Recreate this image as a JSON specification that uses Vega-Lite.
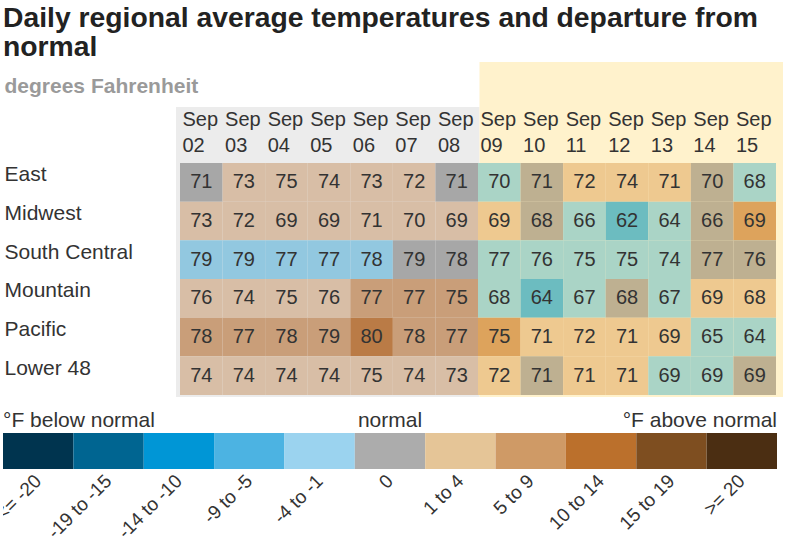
{
  "$schema": "https://vega.github.io/schema/vega-lite/v6.json",
  "padding": {"left": 3, "top": 3, "right": 3, "bottom": 0},
  "title": {
    "text": ["Daily regional average temperatures and departure from", "normal"],
    "anchor": "start",
    "frame": "bounds",
    "font": "Liberation Sans",
    "fontSize": 28.3,
    "fontWeight": "bold",
    "color": "#222222",
    "lineHeight": 29,
    "offset": 0
  },
  "config": {
    "view": {"stroke": null},
    "font": "Liberation Sans",
    "axis": {"labelFont": "Liberation Sans", "grid": false, "domain": false, "ticks": false, "tickSize": 0, "title": null}
  },
  "datasets": {
    "cells": [
      {"region": "East", "day": "Sep 02", "temp": 71, "dep": "0", "period": "observed"},
      {"region": "East", "day": "Sep 03", "temp": 73, "dep": "1 to 4", "period": "observed"},
      {"region": "East", "day": "Sep 04", "temp": 75, "dep": "1 to 4", "period": "observed"},
      {"region": "East", "day": "Sep 05", "temp": 74, "dep": "1 to 4", "period": "observed"},
      {"region": "East", "day": "Sep 06", "temp": 73, "dep": "1 to 4", "period": "observed"},
      {"region": "East", "day": "Sep 07", "temp": 72, "dep": "1 to 4", "period": "observed"},
      {"region": "East", "day": "Sep 08", "temp": 71, "dep": "0", "period": "observed"},
      {"region": "East", "day": "Sep 09", "temp": 70, "dep": "-4 to -1", "period": "forecast"},
      {"region": "East", "day": "Sep 10", "temp": 71, "dep": "0", "period": "forecast"},
      {"region": "East", "day": "Sep 11", "temp": 72, "dep": "1 to 4", "period": "forecast"},
      {"region": "East", "day": "Sep 12", "temp": 74, "dep": "1 to 4", "period": "forecast"},
      {"region": "East", "day": "Sep 13", "temp": 71, "dep": "1 to 4", "period": "forecast"},
      {"region": "East", "day": "Sep 14", "temp": 70, "dep": "0", "period": "forecast"},
      {"region": "East", "day": "Sep 15", "temp": 68, "dep": "-4 to -1", "period": "forecast"},
      {"region": "Midwest", "day": "Sep 02", "temp": 73, "dep": "1 to 4", "period": "observed"},
      {"region": "Midwest", "day": "Sep 03", "temp": 72, "dep": "1 to 4", "period": "observed"},
      {"region": "Midwest", "day": "Sep 04", "temp": 69, "dep": "1 to 4", "period": "observed"},
      {"region": "Midwest", "day": "Sep 05", "temp": 69, "dep": "1 to 4", "period": "observed"},
      {"region": "Midwest", "day": "Sep 06", "temp": 71, "dep": "1 to 4", "period": "observed"},
      {"region": "Midwest", "day": "Sep 07", "temp": 70, "dep": "1 to 4", "period": "observed"},
      {"region": "Midwest", "day": "Sep 08", "temp": 69, "dep": "1 to 4", "period": "observed"},
      {"region": "Midwest", "day": "Sep 09", "temp": 69, "dep": "1 to 4", "period": "forecast"},
      {"region": "Midwest", "day": "Sep 10", "temp": 68, "dep": "0", "period": "forecast"},
      {"region": "Midwest", "day": "Sep 11", "temp": 66, "dep": "-4 to -1", "period": "forecast"},
      {"region": "Midwest", "day": "Sep 12", "temp": 62, "dep": "-9 to -5", "period": "forecast"},
      {"region": "Midwest", "day": "Sep 13", "temp": 64, "dep": "-4 to -1", "period": "forecast"},
      {"region": "Midwest", "day": "Sep 14", "temp": 66, "dep": "0", "period": "forecast"},
      {"region": "Midwest", "day": "Sep 15", "temp": 69, "dep": "5 to 9", "period": "forecast"},
      {"region": "South Central", "day": "Sep 02", "temp": 79, "dep": "-4 to -1", "period": "observed"},
      {"region": "South Central", "day": "Sep 03", "temp": 79, "dep": "-4 to -1", "period": "observed"},
      {"region": "South Central", "day": "Sep 04", "temp": 77, "dep": "-4 to -1", "period": "observed"},
      {"region": "South Central", "day": "Sep 05", "temp": 77, "dep": "-4 to -1", "period": "observed"},
      {"region": "South Central", "day": "Sep 06", "temp": 78, "dep": "-4 to -1", "period": "observed"},
      {"region": "South Central", "day": "Sep 07", "temp": 79, "dep": "0", "period": "observed"},
      {"region": "South Central", "day": "Sep 08", "temp": 78, "dep": "0", "period": "observed"},
      {"region": "South Central", "day": "Sep 09", "temp": 77, "dep": "-4 to -1", "period": "forecast"},
      {"region": "South Central", "day": "Sep 10", "temp": 76, "dep": "-4 to -1", "period": "forecast"},
      {"region": "South Central", "day": "Sep 11", "temp": 75, "dep": "-4 to -1", "period": "forecast"},
      {"region": "South Central", "day": "Sep 12", "temp": 75, "dep": "-4 to -1", "period": "forecast"},
      {"region": "South Central", "day": "Sep 13", "temp": 74, "dep": "-4 to -1", "period": "forecast"},
      {"region": "South Central", "day": "Sep 14", "temp": 77, "dep": "0", "period": "forecast"},
      {"region": "South Central", "day": "Sep 15", "temp": 76, "dep": "0", "period": "forecast"},
      {"region": "Mountain", "day": "Sep 02", "temp": 76, "dep": "1 to 4", "period": "observed"},
      {"region": "Mountain", "day": "Sep 03", "temp": 74, "dep": "1 to 4", "period": "observed"},
      {"region": "Mountain", "day": "Sep 04", "temp": 75, "dep": "1 to 4", "period": "observed"},
      {"region": "Mountain", "day": "Sep 05", "temp": 76, "dep": "1 to 4", "period": "observed"},
      {"region": "Mountain", "day": "Sep 06", "temp": 77, "dep": "5 to 9", "period": "observed"},
      {"region": "Mountain", "day": "Sep 07", "temp": 77, "dep": "5 to 9", "period": "observed"},
      {"region": "Mountain", "day": "Sep 08", "temp": 75, "dep": "5 to 9", "period": "observed"},
      {"region": "Mountain", "day": "Sep 09", "temp": 68, "dep": "-4 to -1", "period": "forecast"},
      {"region": "Mountain", "day": "Sep 10", "temp": 64, "dep": "-9 to -5", "period": "forecast"},
      {"region": "Mountain", "day": "Sep 11", "temp": 67, "dep": "-4 to -1", "period": "forecast"},
      {"region": "Mountain", "day": "Sep 12", "temp": 68, "dep": "0", "period": "forecast"},
      {"region": "Mountain", "day": "Sep 13", "temp": 67, "dep": "-4 to -1", "period": "forecast"},
      {"region": "Mountain", "day": "Sep 14", "temp": 69, "dep": "1 to 4", "period": "forecast"},
      {"region": "Mountain", "day": "Sep 15", "temp": 68, "dep": "1 to 4", "period": "forecast"},
      {"region": "Pacific", "day": "Sep 02", "temp": 78, "dep": "5 to 9", "period": "observed"},
      {"region": "Pacific", "day": "Sep 03", "temp": 77, "dep": "5 to 9", "period": "observed"},
      {"region": "Pacific", "day": "Sep 04", "temp": 78, "dep": "5 to 9", "period": "observed"},
      {"region": "Pacific", "day": "Sep 05", "temp": 79, "dep": "5 to 9", "period": "observed"},
      {"region": "Pacific", "day": "Sep 06", "temp": 80, "dep": "10 to 14", "period": "observed"},
      {"region": "Pacific", "day": "Sep 07", "temp": 78, "dep": "5 to 9", "period": "observed"},
      {"region": "Pacific", "day": "Sep 08", "temp": 77, "dep": "5 to 9", "period": "observed"},
      {"region": "Pacific", "day": "Sep 09", "temp": 75, "dep": "5 to 9", "period": "forecast"},
      {"region": "Pacific", "day": "Sep 10", "temp": 71, "dep": "1 to 4", "period": "forecast"},
      {"region": "Pacific", "day": "Sep 11", "temp": 72, "dep": "1 to 4", "period": "forecast"},
      {"region": "Pacific", "day": "Sep 12", "temp": 71, "dep": "1 to 4", "period": "forecast"},
      {"region": "Pacific", "day": "Sep 13", "temp": 69, "dep": "1 to 4", "period": "forecast"},
      {"region": "Pacific", "day": "Sep 14", "temp": 65, "dep": "-4 to -1", "period": "forecast"},
      {"region": "Pacific", "day": "Sep 15", "temp": 64, "dep": "-4 to -1", "period": "forecast"},
      {"region": "Lower 48", "day": "Sep 02", "temp": 74, "dep": "1 to 4", "period": "observed"},
      {"region": "Lower 48", "day": "Sep 03", "temp": 74, "dep": "1 to 4", "period": "observed"},
      {"region": "Lower 48", "day": "Sep 04", "temp": 74, "dep": "1 to 4", "period": "observed"},
      {"region": "Lower 48", "day": "Sep 05", "temp": 74, "dep": "1 to 4", "period": "observed"},
      {"region": "Lower 48", "day": "Sep 06", "temp": 75, "dep": "1 to 4", "period": "observed"},
      {"region": "Lower 48", "day": "Sep 07", "temp": 74, "dep": "1 to 4", "period": "observed"},
      {"region": "Lower 48", "day": "Sep 08", "temp": 73, "dep": "1 to 4", "period": "observed"},
      {"region": "Lower 48", "day": "Sep 09", "temp": 72, "dep": "1 to 4", "period": "forecast"},
      {"region": "Lower 48", "day": "Sep 10", "temp": 71, "dep": "0", "period": "forecast"},
      {"region": "Lower 48", "day": "Sep 11", "temp": 71, "dep": "1 to 4", "period": "forecast"},
      {"region": "Lower 48", "day": "Sep 12", "temp": 71, "dep": "1 to 4", "period": "forecast"},
      {"region": "Lower 48", "day": "Sep 13", "temp": 69, "dep": "-4 to -1", "period": "forecast"},
      {"region": "Lower 48", "day": "Sep 14", "temp": 69, "dep": "-4 to -1", "period": "forecast"},
      {"region": "Lower 48", "day": "Sep 15", "temp": 69, "dep": "0", "period": "forecast"}
    ],
    "legend": [
      {"cat": "<= -20"}, {"cat": "-19 to -15"}, {"cat": "-14 to -10"}, {"cat": "-9 to -5"},
      {"cat": "-4 to -1"}, {"cat": "0"}, {"cat": "1 to 4"}, {"cat": "5 to 9"},
      {"cat": "10 to 14"}, {"cat": "15 to 19"}, {"cat": ">= 20"}
    ]
  },
  "concat": [
    {
      "width": 780,
      "height": 45,
      "data": {"values": [{"period": "forecast", "unit": "degrees Fahrenheit"}]},
      "mark": {"type": "rect", "color": "#fff2cc"},
      "encoding": {
        "x": {"field": "period", "type": "nominal", "scale": {"type": "band", "domain": ["observed", "forecast"], "paddingInner": 0, "paddingOuter": 0.285, "align": 1}, "axis": null},
        "y": {"field": "unit", "type": "nominal", "scale": {"type": "band", "paddingInner": 0, "paddingOuter": 0},
          "axis": {"zindex": 2, "labelAlign": "left", "labelPadding": -1, "labelColor": "#9a9a9a", "labelFontWeight": "bold", "labelFontSize": 21, "labelOffset": 2, "labelLimit": 0}}
      }
    },
    {
      "width": 780,
      "height": 290,
      "data": {"name": "cells"},
      "layer": [
        {
          "data": {"values": [{"period": "observed"}, {"period": "forecast"}]},
          "mark": "rect",
          "encoding": {
            "x": {"field": "period", "type": "nominal", "scale": {"type": "band", "domain": ["observed", "forecast"], "paddingInner": 0, "paddingOuter": 0.285, "align": 1}, "axis": null},
            "color": {"field": "period", "type": "nominal", "scale": {"domain": ["observed", "forecast"], "range": ["#ececec", "#fff2cc"]}, "legend": null}
          }
        },
        {
          "transform": [{"filter": "datum.period == 'observed'"}],
          "mark": "rect",
          "encoding": {
            "x": {"field": "day", "type": "ordinal", "scale": {"type": "band", "domain": ["Sep 02","Sep 03","Sep 04","Sep 05","Sep 06","Sep 07","Sep 08","Sep 09","Sep 10","Sep 11","Sep 12","Sep 13","Sep 14","Sep 15"], "range": [177, 773], "paddingInner": 0, "paddingOuter": 0}, "axis": null},
            "y": {"field": "region", "type": "nominal", "sort": ["East","Midwest","South Central","Mountain","Pacific","Lower 48"], "scale": {"type": "band", "paddingInner": 0, "paddingOuter": 0.75, "align": 0.9655},
              "axis": {"zindex": 2, "labelAlign": "left", "labelPadding": -1, "labelColor": "#333333", "labelFontSize": 21, "labelOffset": -7, "labelLimit": 0}},
            "color": {"field": "dep", "type": "nominal", "scale": {"domain": ["-4 to -1","0","1 to 4","5 to 9","10 to 14"], "range": ["#92c8e0","#a7a7a7","#d8bea6","#c99e79","#ba7b46"]}, "legend": null}
          }
        },
        {
          "transform": [{"filter": "datum.period == 'forecast'"}],
          "mark": "rect",
          "encoding": {
            "x": {"field": "day", "type": "ordinal", "scale": {"type": "band", "domain": ["Sep 02","Sep 03","Sep 04","Sep 05","Sep 06","Sep 07","Sep 08","Sep 09","Sep 10","Sep 11","Sep 12","Sep 13","Sep 14","Sep 15"], "range": [177, 773], "paddingInner": 0, "paddingOuter": 0}, "axis": null},
            "y": {"field": "region", "type": "nominal", "sort": ["East","Midwest","South Central","Mountain","Pacific","Lower 48"], "scale": {"type": "band", "paddingInner": 0, "paddingOuter": 0.75, "align": 0.9655},
              "axis": {"zindex": 2, "labelAlign": "left", "labelPadding": -1, "labelColor": "#333333", "labelFontSize": 21, "labelOffset": -7, "labelLimit": 0}},
            "color": {"field": "dep", "type": "nominal", "scale": {"domain": ["-9 to -5","-4 to -1","0","1 to 4","5 to 9"], "range": ["#6cbcc0","#aad4c6","#beb091","#eec990","#dda35c"]}, "legend": null}
          }
        },
        {
          "mark": {"type": "text", "fontSize": 20, "color": "#333333", "baseline": "middle", "align": "center"},
          "encoding": {
            "x": {"field": "day", "type": "ordinal", "scale": {"type": "band", "domain": ["Sep 02","Sep 03","Sep 04","Sep 05","Sep 06","Sep 07","Sep 08","Sep 09","Sep 10","Sep 11","Sep 12","Sep 13","Sep 14","Sep 15"], "range": [177, 773], "paddingInner": 0, "paddingOuter": 0},
              "axis": {"orient": "top", "zindex": 2, "labelAlign": "left", "labelBaseline": "top", "labelOffset": -18.8, "labelExpr": "split(datum.value, ' ')", "labelLineHeight": 26, "labelFontSize": 20, "labelColor": "#333333", "labelPadding": -2, "labelAngle": 0, "labelOverlap": false, "labelBound": false, "labelFlush": false}},
            "y": {"field": "region", "type": "nominal", "sort": ["East","Midwest","South Central","Mountain","Pacific","Lower 48"], "scale": {"type": "band", "paddingInner": 0, "paddingOuter": 0.75, "align": 0.9655},
              "axis": {"zindex": 2, "labelAlign": "left", "labelPadding": -1, "labelColor": "#333333", "labelFontSize": 21, "labelOffset": -7, "labelLimit": 0}},
            "text": {"field": "temp", "type": "quantitative"}
          }
        }
      ],
      "resolve": {"scale": {"x": "independent", "color": "independent"}, "axis": {"x": "independent"}}
    },
    {
      "width": 774,
      "height": 154,
      "data": {"name": "legend"},
      "layer": [
        {
          "mark": "rect",
          "encoding": {
            "x": {"field": "cat", "type": "nominal", "sort": null, "scale": {"type": "band", "domain": ["<= -20","-19 to -15","-14 to -10","-9 to -5","-4 to -1","0","1 to 4","5 to 9","10 to 14","15 to 19",">= 20"], "paddingInner": 0, "paddingOuter": 0}, "axis": null},
            "y": {"datum": "bar", "type": "nominal", "scale": {"type": "band", "domain": ["hdr", "bar", "lbl"], "paddingInner": 0, "paddingOuter": 0.639, "align": 0}, "axis": null},
            "color": {"field": "cat", "type": "nominal", "scale": {"domain": ["<= -20","-19 to -15","-14 to -10","-9 to -5","-4 to -1","0","1 to 4","5 to 9","10 to 14","15 to 19",">= 20"], "range": ["#00344f","#006591","#0096d6","#4cb3e2","#9bd3ef","#acacac","#e5c597","#cf9a66","#bb702c","#7e4e20","#4b2e12"]}, "legend": null}
          }
        },
        {
          "mark": {"type": "text", "angle": 315, "align": "right", "baseline": "middle", "fontSize": 19, "color": "#333333", "clip": true},
          "encoding": {
            "x": {"field": "cat", "type": "nominal", "sort": null, "axis": null},
            "y": {"datum": "lbl", "type": "nominal", "bandPosition": 0.25, "axis": null},
            "text": {"field": "cat"}
          }
        },
        {
          "data": {"values": [{"note": "below"}]},
          "mark": {"type": "text", "text": "°F below normal", "align": "left", "baseline": "alphabetic", "fontSize": 21, "color": "#333333"},
          "encoding": {
            "x": {"datum": "<= -20", "type": "nominal", "bandPosition": 0},
            "y": {"datum": "hdr", "type": "nominal", "bandPosition": 0.833}
          }
        },
        {
          "data": {"values": [{"note": "normal"}]},
          "mark": {"type": "text", "text": "normal", "align": "center", "baseline": "alphabetic", "fontSize": 21, "color": "#333333"},
          "encoding": {
            "x": {"datum": "0", "type": "nominal", "bandPosition": 0.5},
            "y": {"datum": "hdr", "type": "nominal", "bandPosition": 0.833}
          }
        },
        {
          "data": {"values": [{"note": "above"}]},
          "mark": {"type": "text", "text": "°F above normal", "align": "right", "baseline": "alphabetic", "fontSize": 21, "color": "#333333"},
          "encoding": {
            "x": {"datum": ">= 20", "type": "nominal", "bandPosition": 1},
            "y": {"datum": "hdr", "type": "nominal", "bandPosition": 0.833}
          }
        }
      ]
    }
  ],
  "columns": 1,
  "spacing": 0,
  "align": "none"
}
